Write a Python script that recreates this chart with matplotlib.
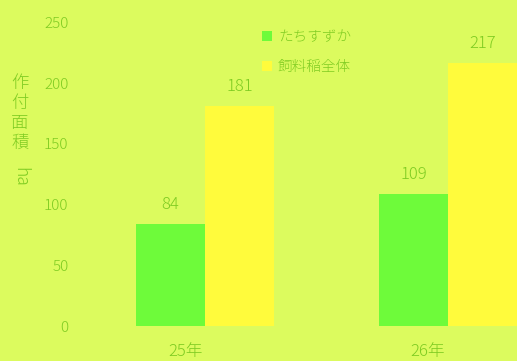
import matplotlib
matplotlib.use("Agg")
import matplotlib.pyplot as plt
import matplotlib.transforms as mtransforms
import numpy as np

plt.rcParams['font.family'] = ['Noto Sans CJK JP', 'DejaVu Sans']
plt.rcParams['font.weight'] = 'light'

categories = ["25年", "26年"]
series_names = ["たちすずか", "飼料稲全体"]
tachisuzuka = [84, 109]
shiryoine = [181, 217]
yticks = [0, 50, 100, 150, 200, 250]

BG = "#dcfb5e"
GREEN = "#6efb3a"
YELLOW = "#fffb3c"
TEXT = "#7fcc22"

W, H = 517, 361
fig = plt.figure(figsize=(W / 100, H / 100), dpi=100, facecolor=BG)
ax = fig.add_axes([83 / W, 35 / H, (W - 83) / W, 303.5 / H])
ax.set_facecolor(BG)

x = np.arange(len(categories))
bw = 0.284
b1 = ax.bar(x - bw / 2, tachisuzuka, bw, color=GREEN, label=series_names[0])
b2 = ax.bar(x + bw / 2, shiryoine, bw, color=YELLOW, label=series_names[1])

for bars, vals in ((b1, tachisuzuka), (b2, shiryoine)):
    for r, v in zip(bars, vals):
        ax.annotate(str(v), (r.get_x() + r.get_width() / 2, r.get_height()),
                    xytext=(0, 14), textcoords="offset points",
                    ha="center", va="center", fontsize=12, color=TEXT,
                    annotation_clip=False)

ax.set_xlim((83 - 205) / 243, (W - 205) / 243)
ax.set_ylim(0, 250)
ax.set_yticks(yticks)
ax.set_yticklabels([str(t) for t in yticks], fontsize=11, color=TEXT)
ax.set_xticks(x)
ax.set_xticklabels(categories, fontsize=12, color=TEXT)
ax.tick_params(axis="both", length=0)
ax.tick_params(axis="y", pad=10.5)
ax.tick_params(axis="x", pad=12.5)
offset = mtransforms.ScaledTranslation(-20 / 100, 0, fig.dpi_scale_trans)
for lbl in ax.get_xticklabels():
    lbl.set_transform(lbl.get_transform() + offset)
for s in ax.spines.values():
    s.set_visible(False)

leg = ax.legend(loc="upper left", bbox_to_anchor=(262 / W, 1 - 30 / H),
                bbox_transform=fig.transFigure, frameon=False,
                fontsize=10.5, handlelength=0.7, handleheight=0.7,
                handletextpad=0.4, labelspacing=1.12, borderpad=0,
                borderaxespad=0)
for t in leg.get_texts():
    t.set_color(TEXT)

fig.text(20 / W, 1 - 74 / H, "作\n付\n面\n積", fontsize=12.5, color=TEXT,
         ha="center", va="top", linespacing=1.15)
fig.text(20 / W, 1 - 177 / H, "ha", fontsize=12.5, color=TEXT,
         ha="center", va="center", rotation=-90)

fig.savefig("out.png", dpi=100, facecolor=BG)
